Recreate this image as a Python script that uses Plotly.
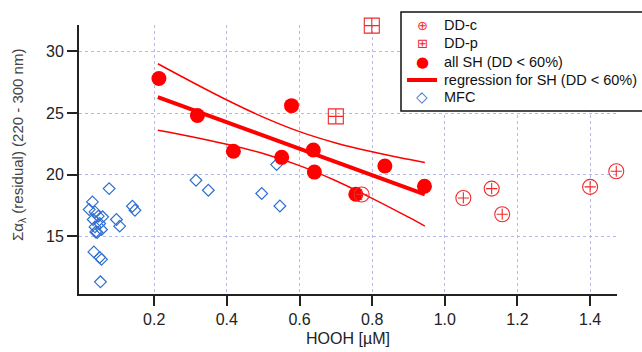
import plotly.graph_objects as go

# ---- data ----
sh_x = [0.213, 0.319, 0.418, 0.551, 0.578, 0.638, 0.641, 0.755, 0.835, 0.944]
sh_y = [27.8, 24.8, 21.9, 21.4, 25.6, 22.0, 20.2, 18.4, 20.7, 19.05]

ddc_x = [0.771, 1.051, 1.129, 1.158, 1.400, 1.472]
ddc_y = [18.38, 18.10, 18.86, 16.78, 19.00, 20.27]

ddp_x = [0.799, 0.700]
ddp_y = [32.1, 24.73]

mfc_x = [0.076, 0.030, 0.021, 0.037, 0.032, 0.046, 0.058, 0.050, 0.039, 0.055,
         0.037, 0.043, 0.096, 0.105, 0.140, 0.147, 0.034, 0.050, 0.055, 0.052,
         0.315, 0.349, 0.496, 0.546, 0.537]
mfc_y = [18.86, 17.78, 17.16, 16.97, 16.35, 16.62, 16.57, 16.03, 15.34, 15.54,
         15.75, 15.30, 16.35, 15.81, 17.43, 17.10, 13.72, 13.27, 13.11, 11.29,
         19.54, 18.73, 18.46, 17.45, 20.81]

reg_x = [0.21, 0.945]
reg_y = [26.3, 18.4]

band_x = [0.21, 0.30, 0.40, 0.50, 0.60, 0.70, 0.80, 0.90, 0.945]
band_upper = [29.0, 27.58, 26.06, 24.67, 23.49, 22.57, 21.85, 21.24, 20.98]
band_lower = [23.6, 23.10, 22.46, 21.71, 20.73, 19.50, 18.07, 16.54, 15.82]

x_ticks = [0.2, 0.4, 0.6, 0.8, 1.0, 1.2, 1.4]
y_ticks = [15, 20, 25, 30]

legend_labels = ["DD-c", "DD-p", "all SH (DD < 60%)", "regression for SH (DD < 60%)", "MFC"]
legend_glyphs = ["⊕", "⊞", "●", None, "◇"]

RED = "#ff0000"
RED2 = "#ee2a2a"
BLUE = "#2f6fd0"
FONT = "Liberation Sans, Arial"

fig = go.Figure()

# confidence band lines
fig.add_trace(go.Scatter(x=band_x, y=band_upper, mode="lines",
                         line=dict(color=RED, width=1.5, shape="spline"),
                         showlegend=False, hoverinfo="skip"))
fig.add_trace(go.Scatter(x=band_x, y=band_lower, mode="lines",
                         line=dict(color=RED, width=1.5, shape="spline"),
                         showlegend=False, hoverinfo="skip"))

fig.add_trace(go.Scatter(x=mfc_x, y=mfc_y, mode="markers", name="MFC",
                         marker=dict(symbol="diamond-open", size=9, color=BLUE,
                                     line=dict(width=1.2, color=BLUE)),
                         cliponaxis=False))
fig.add_trace(go.Scatter(x=reg_x, y=reg_y, mode="lines", name="regression for SH (DD < 60%)",
                         line=dict(color=RED, width=4)))
fig.add_trace(go.Scatter(x=sh_x, y=sh_y, mode="markers", name="all SH (DD < 60%)",
                         marker=dict(symbol="circle", size=15, color=RED),
                         cliponaxis=False))
# DD-c: open circle with a small cross inside
fig.add_trace(go.Scatter(x=ddc_x, y=ddc_y, mode="markers", name="DD-c",
                         marker=dict(symbol="circle-open", size=15, color=RED2,
                                     line=dict(width=1.1, color=RED2)),
                         cliponaxis=False))
fig.add_trace(go.Scatter(x=ddc_x, y=ddc_y, mode="markers", name="DD-c",
                         marker=dict(symbol="cross-thin-open", size=8, color=RED2,
                                     line=dict(width=1.1, color=RED2)),
                         cliponaxis=False, showlegend=False))
fig.add_trace(go.Scatter(x=ddp_x, y=ddp_y, mode="markers", name="DD-p",
                         marker=dict(symbol="square-cross-open", size=15, color=RED2,
                                     line=dict(width=1.1, color=RED2)),
                         cliponaxis=False))

axis_common = dict(
    showline=True, linecolor="#222222", linewidth=2,
    ticks="outside", ticklen=10, tickwidth=2, tickcolor="#222222",
    showgrid=True, gridcolor="#b4b8ec", gridwidth=1, griddash="dot",
    zeroline=False, mirror=False,
    tickfont=dict(family=FONT, size=16, color="#222222"),
)

# ---- legend box drawn as shapes/annotations (box runs past the right edge like the original) ----
L, T, B = 401, 12, 111          # pixel geometry of the legend box
pw, ph, ml, mt = 538, 269, 79, 25
def px_x(p):
    return (p - ml) / pw
def px_y(p):
    return (mt + ph - p) / ph

row_px = [25, 43, 62, 80, 97]
glyph_colors = [RED2, RED2, RED, RED, BLUE]
glyph_sizes = [13, 13, 15, 0, 15]

shapes = [dict(type="rect", xref="paper", yref="paper",
               x0=px_x(L), x1=px_x(660), y0=px_y(B), y1=px_y(T),
               line=dict(color="#111111", width=1.5), fillcolor="white", layer="above")]
annotations = []
for lab, g, col, gs, ry in zip(legend_labels, legend_glyphs, glyph_colors, glyph_sizes, row_px):
    annotations.append(dict(text=lab, xref="paper", yref="paper", x=px_x(442), y=px_y(ry),
                            xanchor="left", yanchor="middle", showarrow=False,
                            font=dict(family=FONT, size=14.5, color="#111111")))
    if g is None:
        shapes.append(dict(type="line", xref="paper", yref="paper",
                           x0=px_x(407), x1=px_x(437), y0=px_y(ry), y1=px_y(ry),
                           line=dict(color=RED, width=4), layer="above"))
    else:
        annotations.append(dict(text=g, xref="paper", yref="paper", x=px_x(422), y=px_y(ry),
                                xanchor="center", yanchor="middle", showarrow=False,
                                font=dict(family="DejaVu Sans", size=gs, color=col)))

annotations.append(dict(text="Σα<sub>λ</sub> (residual) (220 - 300 nm)", textangle=-90,
                        xref="paper", yref="paper", x=px_x(18), y=px_y(145),
                        xanchor="center", yanchor="middle", showarrow=False,
                        font=dict(family=FONT, size=15, color="#444444")))

fig.update_layout(
    width=642, height=352,
    margin=dict(l=79, r=25, t=25, b=58, autoexpand=False),
    paper_bgcolor="white", plot_bgcolor="white",
    font=dict(family=FONT, color="#222222"),
    xaxis=dict(range=[-0.007, 1.474], tickvals=x_ticks, tickformat=".1f",
               title=dict(text="HOOH [µM]", font=dict(size=16, color="#222222"), standoff=6),
               **axis_common),
    yaxis=dict(range=[10.3, 32.15], tickvals=y_ticks, **axis_common),
    showlegend=False,
    shapes=shapes,
    annotations=annotations,
)

fig.write_html("out.html")
